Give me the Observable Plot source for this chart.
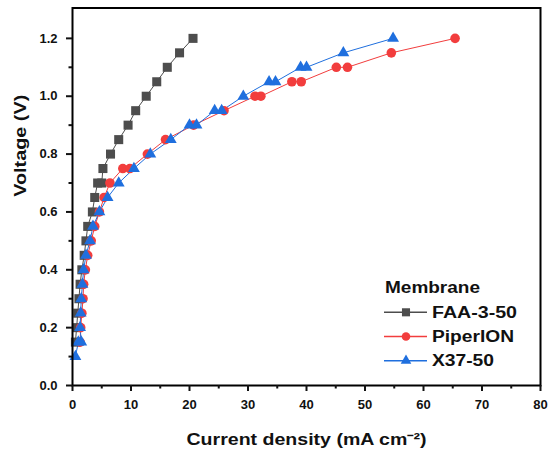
<!DOCTYPE html>
<html><head><meta charset="utf-8">
<script src="https://cdn.jsdelivr.net/npm/d3@7"></script>
<script src="https://cdn.jsdelivr.net/npm/@observablehq/plot@0.6"></script>
<style>
body{margin:0;background:#fff;}
#chart{position:relative;width:558px;height:449px;}
</style></head><body><div id="chart"></div>
<script>
const seriesNames = ["FAA-3-50", "PiperION", "X37-50"];
const legendTitle = "Membrane";
const xTitle = "Current density (mA cm\u207B\u00B2)";
const yTitle = "Voltage (V)";

const faaVoltage = [0.15,0.2,0.25,0.3,0.35,0.4,0.45,0.5,0.55,0.6,0.65,0.7,0.7,0.75,0.8,0.85,0.9,0.95,1.0,1.05,1.1,1.15,1.2];
const faaCurrent = [0.5,0.7,0.9,1.1,1.3,1.6,2.0,2.3,2.6,3.4,3.8,4.3,5.0,5.2,6.5,7.9,9.5,10.8,12.6,14.4,16.2,18.3,20.6];

const piperVoltage = [0.15,0.2,0.25,0.3,0.35,0.4,0.45,0.5,0.55,0.6,0.65,0.7,0.75,0.75,0.8,0.85,0.9,0.95,1.0,1.0,1.05,1.05,1.1,1.1,1.15,1.2];
const piperCurrent = [1.3,1.4,1.6,1.8,1.9,2.2,2.6,3.2,3.8,4.6,5.4,6.4,8.6,9.8,12.8,15.9,20.7,25.9,31.2,32.2,37.5,39.1,45.1,47.0,54.5,65.4];

const x37Voltage = [0.1,0.15,0.15,0.2,0.25,0.3,0.35,0.4,0.45,0.5,0.55,0.6,0.65,0.7,0.75,0.8,0.85,0.9,0.9,0.95,0.95,1.0,1.05,1.05,1.1,1.1,1.15,1.2];
const x37Current = [0.5,1.0,1.5,1.3,1.4,1.5,1.7,1.9,2.3,3.0,3.5,4.6,6.0,7.9,10.5,13.3,16.8,20.0,21.2,24.3,25.5,29.2,33.6,34.7,39.0,40.0,46.3,54.8];

const xTicks = [0,10,20,30,40,50,60,70,80];
const xMinorTicks = [5,15,25,35,45,55,65,75];
const yTicks = [0,0.2,0.4,0.6,0.8,1.0,1.2];
const yMinorTicks = [0.1,0.3,0.5,0.7,0.9,1.1];

const colors = ["#4d4d4d", "#f23d3d", "#1f6fde"];
const symbols = ["square", "circle", "triangle"];
const radii = [5.1, 4.8, 4.4];

const seriesData = [[faaVoltage, faaCurrent], [piperVoltage, piperCurrent], [x37Voltage, x37Current]];
const rows = [];
seriesData.forEach(([v, c], i) => v.forEach((vv, j) => rows.push({series: seriesNames[i], V: vv, J: c[j]})));

const font = "'Liberation Sans', Arial, sans-serif";

const plot = Plot.plot({
  width: 558, height: 449,
  marginLeft: 72, marginRight: 18, marginTop: 7.5, marginBottom: 64,
  style: {fontFamily: font, fontSize: "13px", fontWeight: "bold", color: "#111", background: "#fff", overflow: "visible"},
  x: {domain: [0, 80], label: null},
  y: {domain: [0, 1.305], label: null},
  color: {domain: seriesNames, range: colors},
  marks: [
    Plot.line(rows, {x: "J", y: "V", z: "series", stroke: "series", strokeWidth: 1}),
    ...seriesNames.map((n, i) => Plot.dot(rows.filter(d => d.series === n), {x: "J", y: "V", fill: colors[i], symbol: symbols[i], r: radii[i]})),
    Plot.frame({stroke: "#000", strokeWidth: 2}),
    Plot.axisX({ticks: xTicks, tickSize: 6, tickPadding: 8, strokeWidth: 2, tickFormat: d => String(d), label: null}),
    Plot.axisX({ticks: xMinorTicks, tickSize: 3.5, strokeWidth: 2, tickFormat: () => "", label: null}),
    Plot.axisY({ticks: yTicks, tickSize: 6, tickPadding: 9, strokeWidth: 2, tickFormat: d3.format(".1f"), label: null}),
    Plot.axisY({ticks: yMinorTicks, tickSize: 3.5, strokeWidth: 2, tickFormat: () => "", label: null}),
    Plot.text([xTitle], {frameAnchor: "bottom", dy: 54, lineAnchor: "middle", fontSize: 16, fontWeight: "bold", fill: "#111"}),
    Plot.text([yTitle], {frameAnchor: "left", dx: -52, rotate: -90, lineAnchor: "middle", fontSize: 16, fontWeight: "bold", fill: "#111"})
  ]
});

const svg = d3.select(plot);
svg.selectAll("text").filter(function() { return this.textContent === xTitle; })
  .attr("textLength", 240).attr("lengthAdjust", "spacingAndGlyphs");
svg.selectAll("text").filter(function() { return this.textContent === yTitle; })
  .attr("textLength", 102).attr("lengthAdjust", "spacingAndGlyphs");

// legend
const lg = svg.append("g").attr("font-family", font).attr("font-weight", "bold").attr("font-size", 16)
  .attr("fill", "#111").attr("text-anchor", "start").style("text-anchor", "start");
lg.append("text").attr("x", 385).attr("y", 292.5).attr("textLength", 95).attr("lengthAdjust", "spacingAndGlyphs").text(legendTitle);
const legendLens = [85, 82, 62];
const legendSymbols = [d3.symbolSquare, d3.symbolCircle, d3.symbolTriangle];
seriesNames.forEach((n, i) => {
  const y = 312.3 + i * 24.2;
  lg.append("line").attr("x1", 384).attr("x2", 427).attr("y1", y).attr("y2", y).attr("stroke", colors[i]).attr("stroke-width", 1.5);
  lg.append("path").attr("transform", `translate(406,${y})`)
    .attr("d", d3.symbol(legendSymbols[i], Math.PI * radii[i] * radii[i] * 0.8)())
    .attr("fill", colors[i]);
  lg.append("text").attr("x", 432).attr("y", y + 5.5).attr("textLength", legendLens[i]).attr("lengthAdjust", "spacingAndGlyphs").text(n);
});

document.getElementById("chart").appendChild(plot);
</script>
</body></html>
